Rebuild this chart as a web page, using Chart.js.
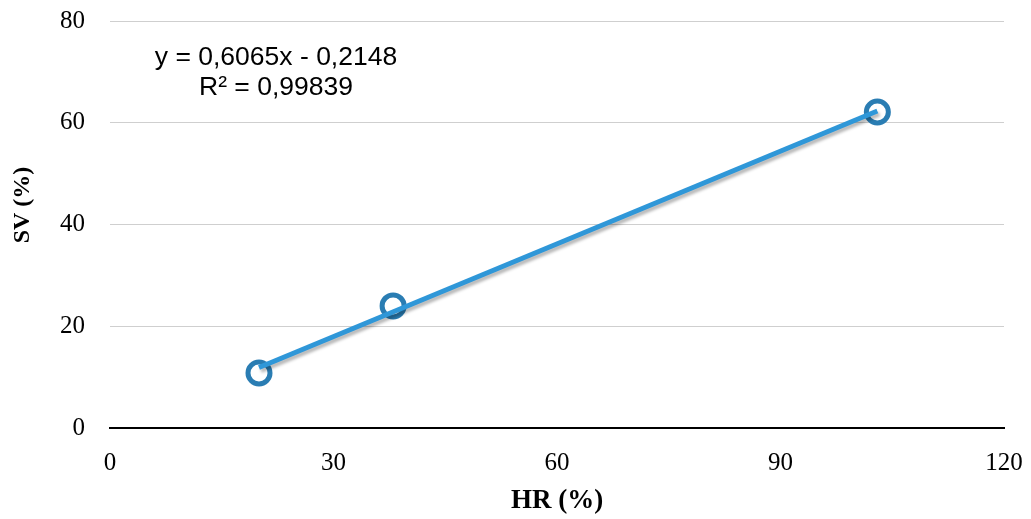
<!DOCTYPE html>
<html>
<head>
<meta charset="utf-8">
<script src="https://cdn.jsdelivr.net/npm/chart.js@4"></script>
<style>
  html, body { margin: 0; padding: 0; background: #fff; }
  #wrap { width: 1031px; height: 519px; }
</style>
</head>
<body>
<div id="wrap"><canvas id="chart" width="1031" height="519"></canvas></div>
<script>
// measured points (HR %, SV %)
const hrValues = [20, 38, 103];
const svValues = [10.8, 24, 62.1];
// trend line ends as drawn on the picture
const trendX = [20, 103];
const trendY = [11.9, 62.3];
const xTicks = [0, 30, 60, 90, 120];
const yTicks = [0, 20, 40, 60, 80];
const equationLines = ['y = 0,6065x - 0,2148', 'R² = 0,99839'];
const yTitle = 'SV (%)';

const serif = '"Liberation Serif", "Times New Roman", serif';

const shadowPlugin = {
  id: 'lineShadow',
  beforeDatasetDraw(chart, args) {
    if (args.index !== 0) return;
    const c = chart.ctx;
    c.save();
    c.shadowColor = 'rgba(0,0,0,0.28)';
    c.shadowBlur = 3;
    c.shadowOffsetX = 2;
    c.shadowOffsetY = 3;
  },
  afterDatasetDraw(chart, args) {
    if (args.index !== 0) return;
    chart.ctx.restore();
  }
};

// equation box and the y title (sits a bit above the axis middle in the original)
const textPlugin = {
  id: 'texts',
  afterDraw(chart) {
    const c = chart.ctx;
    c.save();
    c.font = '26.5px "Liberation Sans", Arial, sans-serif';
    c.fillStyle = '#000';
    c.textAlign = 'center';
    c.textBaseline = 'middle';
    c.fillText(equationLines[0], 276, 58);
    c.fillText(equationLines[1], 276, 88);

    c.translate(23, 205);
    c.rotate(-Math.PI / 2);
    c.font = 'bold 24px ' + serif;
    c.fillText(yTitle, 0, 0);
    c.restore();
  }
};

new Chart(document.getElementById('chart'), {
  type: 'scatter',
  data: {
    datasets: [
      {
        label: 'Trend',
        data: trendX.map((x, i) => ({ x, y: trendY[i] })),
        showLine: true,
        borderColor: '#2f97d8',
        borderWidth: 5,
        pointRadius: 0,
        fill: false
      },
      {
        label: 'SV',
        data: hrValues.map((x, i) => ({ x, y: svValues[i] })),
        showLine: false,
        pointRadius: 11,
        pointBorderWidth: 5,
        pointBorderColor: '#2a7db3',
        pointBackgroundColor: 'rgba(255,255,255,0)'
      }
    ]
  },
  options: {
    responsive: false,
    animation: false,
    layout: { padding: { top: 21, right: 27, left: 0, bottom: 0 } },
    plugins: { legend: { display: false }, tooltip: { enabled: false } },
    scales: {
      x: {
        type: 'linear',
        min: 0, max: 120,
        afterBuildTicks: axis => { axis.ticks = xTicks.map(v => ({ value: v })); },
        afterFit: axis => {
          axis.height = 91;
          axis.paddingLeft = 0;
          axis.paddingRight = 0;
        },
        grid: { display: false },
        border: { display: true, color: '#000', width: 2 },
        ticks: {
          padding: 12,
          color: '#000',
          font: { family: serif, size: 25 }
        },
        title: {
          display: true,
          text: 'HR (%)',
          color: '#000',
          padding: { top: 4, bottom: 2 },
          font: { family: serif, size: 27, weight: 'bold' }
        }
      },
      y: {
        min: 0, max: 80,
        afterBuildTicks: axis => { axis.ticks = yTicks.map(v => ({ value: v })); },
        afterFit: axis => {
          axis.width = 110;
          axis.paddingTop = 0;
          axis.paddingBottom = 0;
        },
        grid: {
          color: ctx => ctx.tick && ctx.tick.value === 0 ? '#000' : '#cfcfcf',
          lineWidth: ctx => ctx.tick && ctx.tick.value === 0 ? 2 : 1,
          drawTicks: false
        },
        border: { display: false },
        ticks: {
          padding: 25,
          color: '#000',
          font: { family: serif, size: 25 }
        },
        title: { display: false }
      }
    }
  },
  plugins: [shadowPlugin, textPlugin]
});
</script>
</body>
</html>
